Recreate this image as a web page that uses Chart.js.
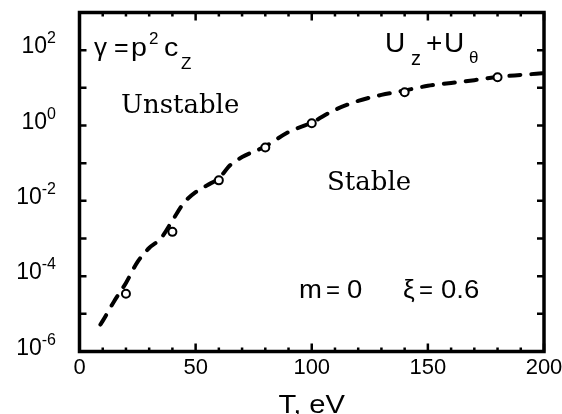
<!DOCTYPE html>
<html>
<head>
<meta charset="utf-8">
<script src="https://cdn.jsdelivr.net/npm/chart.js@4.4.0/dist/chart.umd.min.js"></script>
<style>
  html, body { margin: 0; padding: 0; background: #ffffff; }
  #wrap { width: 562px; height: 414px; }
</style>
</head>
<body>
<div id="wrap"><canvas id="c" width="562" height="414"></canvas></div>
<script>
// ---- data ----
const curveT     = [9, 10, 15, 20, 25, 30, 35, 40, 45, 50, 55, 60, 65, 70, 80, 90, 100, 110, 120, 130, 140, 150, 160, 170, 180, 190, 200];
const curveGamma = [5.2e-6, 6.5e-6, 2.2e-5, 6.6e-5, 2.4e-4, 5.6e-4, 1.0e-3, 3.0e-3, 8.9e-3, 0.017, 0.026, 0.04, 0.09, 0.145, 0.28, 0.67, 1.2, 2.6, 4.5, 6.5, 8.5, 11.3, 13.5, 16, 19.5, 22, 24.5];
const pointT     = [20, 40, 60, 80, 100, 140, 180];
const pointGamma = [3.4e-5, 1.5e-3, 0.035, 0.26, 1.15, 7.6, 19];
const xTickLabels = [0, 50, 100, 150, 200];
const xMinorTicks = [0, 10, 20, 30, 40, 50, 60, 70, 80, 90, 100, 110, 120, 130, 140, 150, 160, 170, 180, 190, 200];
const yDecades    = [-6, -5, -4, -3, -2, -1, 0, 1, 2, 3];
const yLabelExps  = [-6, -4, -2, 0, 2];

const SANS = '"Liberation Sans", Arial, Helvetica, sans-serif';
const SERIF = '"DejaVu Serif", serif';

function txt(ctx, s, x, y, size, sx, family, align) {
  ctx.save();
  ctx.font = size + 'px ' + (family || SANS);
  ctx.textAlign = align || 'left';
  ctx.textBaseline = 'alphabetic';
  ctx.translate(x, y);
  ctx.scale(sx || 1, 1);
  ctx.fillText(s, 0, 0);
  ctx.restore();
}

const framePlugin = {
  id: 'frame',
  afterDraw(chart) {
    const ctx = chart.ctx;
    const a = chart.chartArea;
    const xs = chart.scales.x, ys = chart.scales.y;
    ctx.save();
    ctx.strokeStyle = '#000';
    ctx.fillStyle = '#000';
    // ticks
    ctx.lineWidth = 2.5;
    ctx.lineCap = 'butt';
    xMinorTicks.forEach(v => {
      const px = xs.getPixelForValue(v);
      const len = (v % 50 === 0) ? 8 : 4;
      ctx.beginPath();
      ctx.moveTo(px, a.bottom); ctx.lineTo(px, a.bottom - len);
      ctx.moveTo(px, a.top); ctx.lineTo(px, a.top + len);
      ctx.stroke();
    });
    yDecades.forEach(e => {
      const py = ys.getPixelForValue(Math.pow(10, e));
      ctx.beginPath();
      ctx.moveTo(a.left, py); ctx.lineTo(a.left + 7, py);
      ctx.moveTo(a.right, py); ctx.lineTo(a.right - 7, py);
      ctx.stroke();
    });
    // frame
    ctx.lineWidth = 3.5;
    ctx.lineJoin = 'miter';
    ctx.strokeRect(a.left, a.top, a.right - a.left, a.bottom - a.top);

    // y labels: 10^e
    yLabelExps.forEach(e => {
      const py = ys.getPixelForValue(Math.pow(10, e));
      const expStr = (e < 0 ? '-' : '') + Math.abs(e);
      ctx.font = '16px ' + SANS;
      const ew = ctx.measureText(expStr).width;
      ctx.font = '23px ' + SANS;
      const bw = ctx.measureText('10').width;
      const right = 56;
      txt(ctx, '10', right - ew - bw, py + 3, 23);
      txt(ctx, expStr, right - ew, py - 7, 16);
    });
    // x labels
    xTickLabels.forEach(v => {
      txt(ctx, String(v), xs.getPixelForValue(v), 374, 22, 1, SANS, 'center');
    });
    // x title
    txt(ctx, 'T, eV', (a.left + a.right) / 2, 413, 26, 1.12, SANS, 'center');

    // gamma = p^2 c_Z
    txt(ctx, '\u03B3', 94, 56, 26);
    txt(ctx, '=', 114, 56, 25);
    txt(ctx, 'p', 131, 56, 26, 1.1);
    txt(ctx, '2', 149, 44, 17);
    txt(ctx, 'c', 164, 56, 26, 1.1);
    txt(ctx, 'Z', 181, 69, 17);

    // U_z + U_theta
    txt(ctx, 'U', 385, 52, 28);
    txt(ctx, 'z', 411, 65, 20);
    txt(ctx, '+', 426, 52, 28);
    txt(ctx, 'U', 444, 52, 28);
    txt(ctx, '\u03B8', 469, 63, 17);

    // Unstable / Stable
    txt(ctx, 'Unstable', 121, 113, 26, 1, SERIF);
    txt(ctx, 'Stable', 327, 190, 26, 1, SERIF);

    // m = 0, xi = 0.6
    txt(ctx, 'm', 299, 298, 25, 1.1);
    txt(ctx, '=', 326, 298, 24);
    txt(ctx, '0', 347, 298, 25, 1.1);
    txt(ctx, '\u03BE', 403, 298, 25, 1.05);
    txt(ctx, '=', 419, 298, 24);
    txt(ctx, '0.6', 441, 298, 25, 1.1);
    ctx.restore();
  }
};

new Chart(document.getElementById('c'), {
  type: 'line',
  data: {
    datasets: [
      {
        label: 'points',
        data: pointT.map((t, i) => ({ x: t, y: pointGamma[i] })),
        showLine: false,
        pointRadius: 4,
        pointBorderWidth: 2,
        pointBorderColor: '#000',
        pointBackgroundColor: '#fff',
        order: 0
      },
      {
        label: 'curve',
        data: curveT.map((t, i) => ({ x: t, y: curveGamma[i] })),
        borderColor: '#000',
        borderWidth: 4,
        borderDash: [11, 11],
        borderCapStyle: 'round',
        pointRadius: 0,
        fill: false,
        cubicInterpolationMode: 'monotone',
        order: 1
      }
    ]
  },
  options: {
    responsive: false,
    animation: false,
    layout: { padding: { left: 79.5, right: 18, top: 12.5, bottom: 62.5 } },
    scales: {
      x: { type: 'linear', min: 0, max: 200, display: false },
      y: { type: 'logarithmic', min: 1e-6, max: 1e3, display: false }
    },
    plugins: { legend: { display: false }, tooltip: { enabled: false } }
  },
  plugins: [framePlugin]
});
</script>
</body>
</html>
